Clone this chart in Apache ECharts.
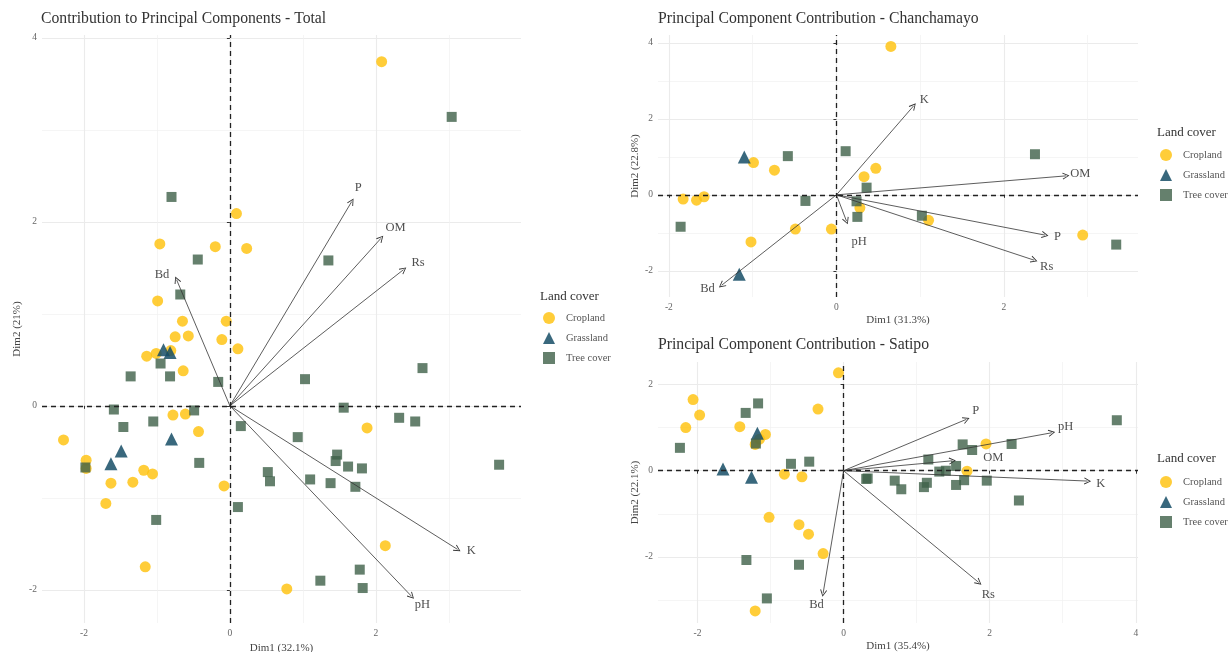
<!DOCTYPE html>
<html>
<head>
<meta charset="utf-8">
<title>PCA biplots</title>
<script src="https://cdn.jsdelivr.net/npm/echarts@6/dist/echarts.min.js"></script>
<style>
  html, body { margin: 0; padding: 0; background: #fff; }
  #chart { width: 1229px; height: 652px; }
</style>
</head>
<body>
<div id="chart"></div>
<script>
const FONT = 'Liberation Serif'
const landCovers = ['Cropland', 'Grassland', 'Tree cover']

// --- Total ---
const totalCrop = [[2.08, 3.74], [0.09, 2.09], [-0.96, 1.76], [-0.2, 1.73], [0.23, 1.71], [-0.99, 1.14], [-0.65, 0.92], [-0.05, 0.92], [-0.75, 0.75], [-0.57, 0.76], [-0.11, 0.72], [0.11, 0.62], [-1.14, 0.54], [-1.01, 0.57], [-0.81, 0.6], [-0.64, 0.38], [-0.78, -0.1], [-0.61, -0.09], [-0.43, -0.28], [-2.28, -0.37], [-1.97, -0.59], [-1.97, -0.68], [-1.18, -0.7], [-1.06, -0.74], [-1.63, -0.84], [-1.33, -0.83], [-0.08, -0.87], [-1.7, -1.06], [-1.16, -1.75], [0.78, -1.99], [1.88, -0.24], [2.13, -1.52]]
const totalGrass = [[-0.91, 0.61], [-0.82, 0.58], [-0.8, -0.36], [-1.49, -0.49], [-1.63, -0.63]]
const totalTree = [[3.04, 3.14], [-0.8, 2.27], [-0.44, 1.59], [1.35, 1.58], [-0.68, 1.21], [-0.95, 0.46], [-1.36, 0.32], [-0.82, 0.32], [-0.16, 0.26], [1.03, 0.29], [2.64, 0.41], [-1.59, -0.04], [-0.49, -0.05], [1.56, -0.02], [-1.05, -0.17], [-1.46, -0.23], [0.15, -0.22], [0.93, -0.34], [2.32, -0.13], [2.54, -0.17], [-1.98, -0.67], [-0.42, -0.62], [3.69, -0.64], [1.47, -0.53], [1.45, -0.6], [1.62, -0.66], [1.81, -0.68], [0.52, -0.72], [0.55, -0.82], [1.1, -0.8], [1.38, -0.84], [1.72, -0.88], [-1.01, -1.24], [0.11, -1.1], [1.78, -1.78], [1.24, -1.9], [1.82, -1.98]]
const totalVars = ['Bd', 'P', 'OM', 'Rs', 'K', 'pH']
const totalTips = [[-0.73, 1.37], [1.67, 2.22], [2.07, 1.82], [2.38, 1.48], [3.12, -1.56], [2.49, -2.07]]
const totalLabelAt = [[-0.93, 1.42], [1.76, 2.37], [2.27, 1.94], [2.58, 1.55], [3.31, -1.57], [2.64, -2.16]]
const totalXRange = [-2.575, 3.99]
const totalYRange = [-2.36, 4.03]
const totalXTicks = [-2, 0, 2]
const totalYTicks = [-2, 0, 2, 4]
const totalXMinor = [-1, 1, 3]
const totalYMinor = [-1, 1, 3]

// --- Chanchamayo ---
const chanCrop = [[0.65, 3.91], [-0.99, 0.85], [-0.74, 0.65], [0.33, 0.48], [0.47, 0.7], [-1.83, -0.11], [-1.67, -0.14], [-1.58, -0.05], [0.28, -0.34], [-0.49, -0.9], [-0.06, -0.9], [-1.02, -1.24], [1.1, -0.67], [2.94, -1.06]]
const chanGrass = [[-1.1, 1.0], [-1.16, -2.09]]
const chanTree = [[-0.58, 1.02], [0.11, 1.15], [0.36, 0.19], [-0.37, -0.16], [0.24, -0.17], [0.25, -0.58], [-1.86, -0.84], [2.37, 1.07], [1.02, -0.55], [3.34, -1.31]]
const chanVars = ['K', 'OM', 'P', 'Rs', 'pH', 'Bd']
const chanTips = [[0.92, 2.34], [2.74, 0.5], [2.49, -1.06], [2.36, -1.72], [0.12, -0.69], [-1.37, -2.38]]
const chanLabelAt = [[1.05, 2.5], [2.91, 0.55], [2.64, -1.11], [2.51, -1.88], [0.27, -1.24], [-1.54, -2.47]]
const chanXRange = [-2.13, 3.6]
const chanYRange = [-2.69, 4.21]
const chanXTicks = [-2, 0, 2]
const chanYTicks = [-2, 0, 2, 4]
const chanXMinor = [-1, 1, 3]
const chanYMinor = [-1, 1, 3]

// --- Satipo ---
const satiCrop = [[-0.07, 2.27], [-2.06, 1.65], [-1.97, 1.29], [-2.16, 1.0], [-1.42, 1.02], [-0.35, 1.43], [-1.07, 0.84], [-1.15, 0.73], [-1.21, 0.61], [-0.81, -0.08], [-0.57, -0.14], [-1.02, -1.08], [-0.61, -1.25], [-0.48, -1.47], [-0.28, -1.92], [-1.21, -3.25], [1.95, 0.62], [1.69, -0.01]]
const satiGrass = [[-1.18, 0.87], [-1.65, 0.04], [-1.26, -0.15]]
const satiTree = [[-1.17, 1.56], [-1.34, 1.34], [-1.2, 0.63], [-2.24, 0.53], [-0.72, 0.16], [-0.47, 0.21], [-1.33, -2.07], [-0.61, -2.18], [-1.05, -2.96], [0.31, -0.19], [0.33, -0.18], [0.7, -0.23], [0.79, -0.43], [1.14, -0.28], [1.1, -0.38], [1.16, 0.26], [1.31, -0.02], [1.4, 0.0], [1.54, 0.11], [1.54, -0.33], [1.65, -0.22], [1.63, 0.61], [1.76, 0.48], [1.96, -0.23], [2.3, 0.62], [2.4, -0.69], [3.74, 1.17]]
const satiVars = ['P', 'pH', 'OM', 'K', 'Rs', 'Bd']
const satiTips = [[1.68, 1.19], [2.85, 0.88], [1.49, 0.23], [3.34, -0.24], [1.85, -2.59], [-0.28, -2.84]]
const satiLabelAt = [[1.81, 1.38], [3.04, 1.02], [2.05, 0.29], [3.52, -0.31], [1.98, -2.88], [-0.37, -3.11]]
const satiXRange = [-2.54, 4.03]
const satiYRange = [-3.53, 2.52]
const satiXTicks = [-2, 0, 2, 4]
const satiYTicks = [-2, 0, 2]
const satiXMinor = [-1, 1, 3]
const satiYMinor = [-3, -1, 1]

const panels = [
  {
    title: 'Contribution to Principal Components - Total', xName: 'Dim1 (32.1%)', yName: 'Dim2 (21%)',
    points: [totalCrop, totalGrass, totalTree], vars: totalVars, tips: totalTips, labelAt: totalLabelAt,
    xRange: totalXRange, yRange: totalYRange, xTicks: totalXTicks, yTicks: totalYTicks, xMinor: totalXMinor, yMinor: totalYMinor,
    box: { left: 42, top: 35, width: 479, height: 588 }, titlePos: [41, 11], yNameGap: 19,
    legendPos: [540, 290, 312]
  },
  {
    title: 'Principal Component Contribution - Chanchamayo', xName: 'Dim1 (31.3%)', yName: 'Dim2 (22.8%)',
    points: [chanCrop, chanGrass, chanTree], vars: chanVars, tips: chanTips, labelAt: chanLabelAt,
    xRange: chanXRange, yRange: chanYRange, xTicks: chanXTicks, yTicks: chanYTicks, xMinor: chanXMinor, yMinor: chanYMinor,
    box: { left: 658, top: 35, width: 480, height: 262 }, titlePos: [658, 11], yNameGap: 17,
    legendPos: [1157, 126, 149]
  },
  {
    title: 'Principal Component Contribution - Satipo', xName: 'Dim1 (35.4%)', yName: 'Dim2 (22.1%)',
    points: [satiCrop, satiGrass, satiTree], vars: satiVars, tips: satiTips, labelAt: satiLabelAt,
    xRange: satiXRange, yRange: satiYRange, xTicks: satiXTicks, yTicks: satiYTicks, xMinor: satiXMinor, yMinor: satiYMinor,
    box: { left: 658, top: 362, width: 480, height: 261 }, titlePos: [658, 337], yNameGap: 17,
    legendPos: [1157, 452, 476]
  }
]

const coverStyle = [
  { symbol: 'circle', symbolSize: 11, color: '#FFC20E', opacity: 0.82 },
  { symbol: 'triangle', symbolSize: 13, color: '#164E66', opacity: 0.85 },
  { symbol: 'rect', symbolSize: 10, color: '#3F6049', opacity: 0.8 }
]

// open arrow head, tip pointing up (lines series rotates it)
const arrowHead = 'path://M0,10 L5,0 L10,10 L8.8,10.6 L5,2.6 L1.2,10.6 Z'

const grid = [], xAxis = [], yAxis = [], series = [], title = [], legend = []

panels.forEach((p, i) => {
  grid.push(Object.assign({ containLabel: false, outerBoundsMode: 'none' }, p.box))

  const nameStyle = { fontFamily: FONT, fontSize: 11, color: '#444' }
  const labelStyle = { fontFamily: FONT, fontSize: 9.5, color: '#666', margin: 5 }
  // major axis: ticks, labels, major grid lines
  xAxis.push({
    type: 'value', gridIndex: i, min: p.xRange[0], max: p.xRange[1],
    name: p.xName, nameLocation: 'middle', nameGap: 18, nameTextStyle: nameStyle,
    axisLine: { show: false },
    axisTick: { show: true, length: 3, customValues: p.xTicks, lineStyle: { color: '#333' } },
    axisLabel: Object.assign({ customValues: p.xTicks }, labelStyle),
    splitLine: { show: true, lineStyle: { color: '#ebebeb', width: 1.1 } }
  })
  // minor axis: only minor grid lines
  xAxis.push({
    type: 'value', gridIndex: i, position: 'top', min: p.xRange[0], max: p.xRange[1],
    axisLine: { show: false }, axisTick: { show: false, customValues: p.xMinor }, axisLabel: { show: false },
    splitLine: { show: true, lineStyle: { color: '#f0f0f0', width: 0.7 } }
  })
  yAxis.push({
    type: 'value', gridIndex: i, min: p.yRange[0], max: p.yRange[1],
    name: p.yName, nameLocation: 'middle', nameGap: p.yNameGap, nameTextStyle: nameStyle,
    axisLine: { show: false },
    axisTick: { show: true, length: 3, customValues: p.yTicks, lineStyle: { color: '#333' } },
    axisLabel: Object.assign({ customValues: p.yTicks }, labelStyle),
    splitLine: { show: true, lineStyle: { color: '#ebebeb', width: 1.1 } }
  })
  yAxis.push({
    type: 'value', gridIndex: i, position: 'right', min: p.yRange[0], max: p.yRange[1],
    axisLine: { show: false }, axisTick: { show: false, customValues: p.yMinor }, axisLabel: { show: false },
    splitLine: { show: true, lineStyle: { color: '#f0f0f0', width: 0.7 } }
  })

  const xi = i * 2, yi = i * 2

  // dashed zero lines
  series.push({
    type: 'scatter', name: 'zero-' + i, xAxisIndex: xi, yAxisIndex: yi, data: [], silent: true, z: 1,
    markLine: {
      silent: true, symbol: 'none', label: { show: false },
      lineStyle: { type: [5, 4], color: '#222', width: 1.3 },
      data: [{ xAxis: 0 }, { yAxis: 0 }]
    }
  })

  landCovers.forEach((lc, k) => {
    const s = coverStyle[k]
    series.push({
      type: 'scatter', name: lc, xAxisIndex: xi, yAxisIndex: yi, z: 3,
      symbol: s.symbol, symbolSize: s.symbolSize,
      itemStyle: { color: s.color, opacity: s.opacity },
      data: p.points[k]
    })
  })

  series.push({
    type: 'lines', name: 'arrows-' + i, coordinateSystem: 'cartesian2d', xAxisIndex: xi, yAxisIndex: yi, z: 4,
    silent: true, symbol: ['none', arrowHead], symbolSize: [9, 7],
    lineStyle: { color: '#333', width: 0.8, opacity: 1 },
    data: p.tips.map(t => ({ coords: [[0, 0], t] }))
  })

  series.push({
    type: 'scatter', name: 'varlabels-' + i, xAxisIndex: xi, yAxisIndex: yi, z: 5, silent: true,
    symbolSize: 1, itemStyle: { color: 'transparent' },
    label: { show: true, position: 'inside', formatter: '{b}', fontFamily: FONT, fontSize: 12.5, color: '#222' },
    data: p.vars.map((v, k) => ({ name: v, value: p.labelAt[k] }))
  })

  title.push({
    text: p.title, left: p.titlePos[0], top: p.titlePos[1], padding: 0,
    textStyle: { fontFamily: FONT, fontSize: 15.7, fontWeight: 'normal', color: '#333' }
  })
  title.push({
    text: 'Land cover', left: p.legendPos[0], top: p.legendPos[1], padding: 0,
    textStyle: { fontFamily: FONT, fontSize: 13, fontWeight: 'normal', color: '#333' }
  })
  legend.push({
    data: landCovers, orient: 'vertical', left: p.legendPos[0] + 3, top: p.legendPos[2], padding: 0,
    itemWidth: 12, itemHeight: 12, itemGap: 8, selectedMode: false,
    textStyle: { fontFamily: FONT, fontSize: 10.5, color: '#555', padding: [0, 0, 0, 6] }
  })
})

const chart = echarts.init(document.getElementById('chart'))
chart.setOption({
  animation: false,
  backgroundColor: '#fff',
  title, legend, grid, xAxis, yAxis, series
})
</script>
</body>
</html>
